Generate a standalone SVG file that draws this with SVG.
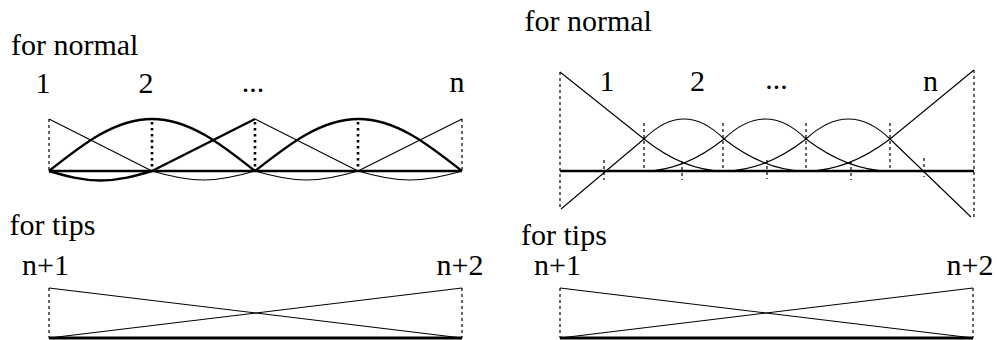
<svg xmlns="http://www.w3.org/2000/svg" width="997" height="340" viewBox="0 0 997 340">
<style>
.c{text-anchor:middle}
.thin{fill:none;stroke:#000;stroke-width:1.1}
.thick{fill:none;stroke:#000;stroke-width:2.4}
.base{fill:none;stroke:#000;stroke-width:2.6}
.dash{fill:none;stroke:#000;stroke-width:1.2;stroke-dasharray:3 3}
.dot{fill:none;stroke:#000;stroke-width:2.6;stroke-dasharray:2.5 3.5}
</style>
<rect width="997" height="340" fill="#fff"/>
<g font-family="'Liberation Serif', 'DejaVu Serif', serif" font-size="30" fill="#000">
<g id="left-normal">
<text x="11" y="55">for normal</text>
<text class="c" x="43" y="93">1</text>
<text class="c" x="146" y="93">2</text>
<text class="c" x="253" y="92">...</text>
<text class="c" x="457" y="92">n</text>
<g id="left-normal-guides">
<line class="dash" x1="49" y1="119" x2="49" y2="171"/>
<line class="dot" x1="152" y1="122" x2="152" y2="171"/>
<line class="dot" x1="255" y1="122" x2="255" y2="171"/>
<line class="dot" x1="358" y1="122" x2="358" y2="171"/>
<line class="dash" x1="462" y1="119" x2="462" y2="171"/>
</g>
<g id="left-normal-curves">
<line class="thin" x1="49" y1="119" x2="152" y2="171"/>
<line class="thick" x1="152" y1="171" x2="255" y2="119"/>
<line class="thin" x1="255" y1="119" x2="358" y2="171"/>
<line class="thin" x1="358" y1="171" x2="462" y2="119"/>
<path class="thick" d="M49,171 C82.6,144.4 114.7,119 152,119 C189.3,119 221.4,144.4 255,171"/>
<path class="thick" d="M255,171 C288.8,144.4 321,119 358.5,119 C396,119 428.2,144.4 462,171"/>
<path class="thick" d="M49,171 C65.8,176 81.9,180.5 100.5,180.5 C119.1,180.5 135.2,176 152,171"/>
<path class="thin" d="M152,171 C168.8,176 184.9,180 203.5,180 C222.1,180 238.2,176 255,171"/>
<path class="thin" d="M255,171 C271.8,176 287.9,180 306.5,180 C325.1,180 341.2,176 358,171"/>
<path class="thin" d="M358,171 C374.8,176 391,180 410,180 C429,180 445.2,176 462,171"/>
<line class="base" x1="49" y1="171" x2="462" y2="171"/>
</g>
</g>
<g id="right-normal">
<text x="524.5" y="31">for normal</text>
<text class="c" x="607" y="91">1</text>
<text class="c" x="697.5" y="91">2</text>
<text class="c" x="776.5" y="89">...</text>
<text class="c" x="930.5" y="91">n</text>
<g id="right-normal-guides">
<line class="dash" x1="560" y1="72" x2="560" y2="209"/>
<line class="dash" x1="974" y1="70" x2="974" y2="218"/>
<line class="dash" x1="644" y1="123" x2="644" y2="171"/>
<line class="dash" x1="723" y1="123" x2="723" y2="169"/>
<line class="dash" x1="806" y1="123" x2="806" y2="169"/>
<line class="dash" x1="890" y1="123" x2="890" y2="169"/>
<line class="dash" x1="604" y1="160" x2="604" y2="180"/>
<line class="dash" x1="682" y1="161" x2="682" y2="180"/>
<line class="dash" x1="767" y1="160" x2="767" y2="179"/>
<line class="dash" x1="851" y1="161" x2="851" y2="180"/>
<line class="dash" x1="924" y1="158" x2="924" y2="177"/>
</g>
<g id="right-normal-curves">
<path class="thin" d="M560,72 L644,139 Q684,171 724,171"/>
<path class="thin" d="M561,209 L644,139 Q684,99 724,139 Q765,171 806,171"/>
<path class="thin" d="M644,171 Q684,171 724,139 Q766,99 806,139 Q848,171 890,171"/>
<path class="thin" d="M724,171 Q765,171 806,139 Q849,99 890,139 L971,217"/>
<path class="thin" d="M806,171 Q848,171 890,139 L974,70"/>
<line class="base" x1="560" y1="171" x2="974" y2="171"/>
</g>
</g>
<g id="left-tips">
<text x="9.5" y="235">for tips</text>
<text class="c" x="45.5" y="275">n+1</text>
<text class="c" x="460" y="275">n+2</text>
<line class="dash" x1="49" y1="288" x2="49" y2="338"/>
<line class="dash" x1="462" y1="288" x2="462" y2="338"/>
<line class="thin" x1="49" y1="288" x2="462" y2="338"/>
<line class="thin" x1="49" y1="338" x2="462" y2="288"/>
<line class="base" x1="49" y1="338" x2="462" y2="338" style="stroke-width:3"/>
</g>
<g id="right-tips">
<text x="521" y="245">for tips</text>
<text class="c" x="557.5" y="275">n+1</text>
<text class="c" x="970" y="275">n+2</text>
<line class="dash" x1="560" y1="288" x2="560" y2="338"/>
<line class="dash" x1="973" y1="288" x2="973" y2="338"/>
<line class="thin" x1="560" y1="288" x2="973" y2="338"/>
<line class="thin" x1="560" y1="338" x2="973" y2="288"/>
<line class="base" x1="560" y1="338" x2="973" y2="338" style="stroke-width:3"/>
</g>
</g>
</svg>
